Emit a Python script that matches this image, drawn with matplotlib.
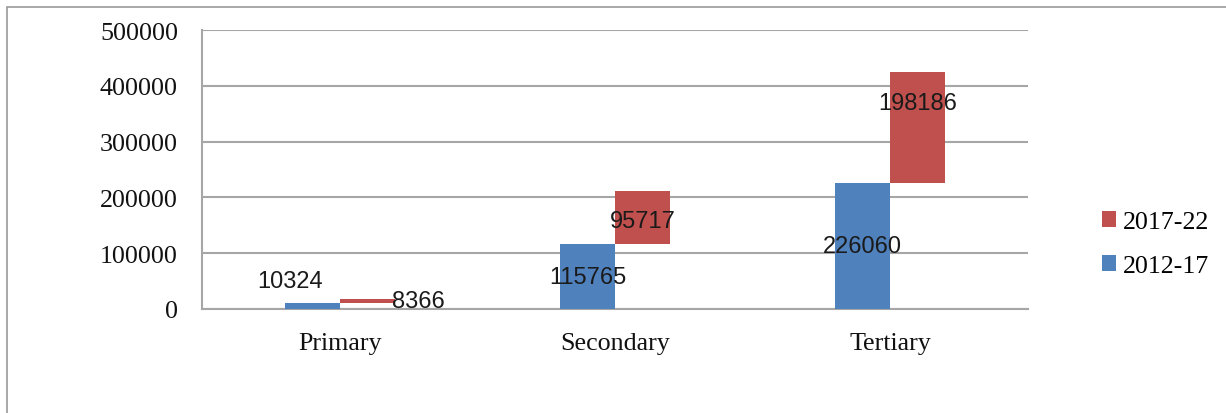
import matplotlib.pyplot as plt
from matplotlib.patches import Rectangle
from matplotlib.transforms import offset_copy
import numpy as np

categories = ['Primary', 'Secondary', 'Tertiary']
v_2012_17 = [10324, 115765, 226060]
v_2017_22 = [8366, 95717, 198186]
y_ticks = [0, 100000, 200000, 300000, 400000, 500000]

# label nudges in pixels (dx, dy), per bar, as placed in the original
blue_nudge = [(-22, 25), (0, 0), (0, 0)]
red_nudge = [(51, 0), (0, -3), (0, 25)]

blue = '#4F81BD'
red = '#C0504D'
grid_col = '#A6A6A6'


def main():
    fig = plt.figure(figsize=(12.26, 4.14), dpi=100)
    ax = fig.add_axes([202 / 1226, 1 - 310 / 414, 826 / 1226, 279 / 414])

    x = np.arange(len(categories))
    w = 0.2
    ax.bar(x - w / 2, v_2012_17, width=w, color=blue, label='2012-17', zorder=3)
    ax.bar(x + w / 2, v_2017_22, width=w, bottom=v_2012_17, color=red, label='2017-22', zorder=3)

    for i in range(len(categories)):
        dx, dy = blue_nudge[i]
        tr = offset_copy(ax.transData, fig=fig, x=dx, y=dy, units='dots')
        ax.text(x[i] - w / 2, v_2012_17[i] / 2, str(v_2012_17[i]), transform=tr,
                ha='center', va='center', fontsize=17, family='Liberation Sans',
                color='#1a1a1a', zorder=4)
        dx, dy = red_nudge[i]
        tr = offset_copy(ax.transData, fig=fig, x=dx, y=dy, units='dots')
        ax.text(x[i] + w / 2, v_2012_17[i] + v_2017_22[i] / 2, str(v_2017_22[i]), transform=tr,
                ha='center', va='center', fontsize=17, family='Liberation Sans',
                color='#1a1a1a', zorder=4)

    ax.set_xlim(-0.5, len(categories) - 0.5)
    ax.set_ylim(0, 500000)
    ax.set_yticks(y_ticks)
    ax.set_yticklabels([str(t) for t in y_ticks])
    ax.set_xticks(x)
    ax.set_xticklabels(categories)
    ax.yaxis.grid(True, color=grid_col, linewidth=1.5, zorder=0)
    ax.tick_params(axis='both', length=0, labelsize=18.7)
    ax.tick_params(axis='y', pad=17.3)
    ax.tick_params(axis='x', pad=16.5)
    for lab in ax.get_xticklabels() + ax.get_yticklabels():
        lab.set_family('Liberation Serif')
        lab.set_color('#111111')
    for side in ['top', 'right']:
        ax.spines[side].set_visible(False)
    for side in ['left', 'bottom']:
        ax.spines[side].set_color(grid_col)
        ax.spines[side].set_linewidth(1.5)

    handles, labels = ax.get_legend_handles_labels()
    fig.legend(handles[::-1], labels[::-1], loc='center left',
               bbox_to_anchor=(1084 / 1226, 1 - 245 / 414), frameon=False,
               prop={'family': 'Liberation Serif', 'size': 18.7},
               handlelength=0.55, handleheight=0.55, handletextpad=0.25,
               labelspacing=0.85, borderpad=0.2)

    # outer chart-area frame
    fig.patches.append(Rectangle((7 / 1226, -0.05), 1.1, 1 - 8 / 414 + 0.05,
                                 transform=fig.transFigure, fill=False,
                                 edgecolor='#9a9a9a', linewidth=1.2))

    fig.savefig('out.png', dpi=100)


if __name__ == '__main__':
    main()
